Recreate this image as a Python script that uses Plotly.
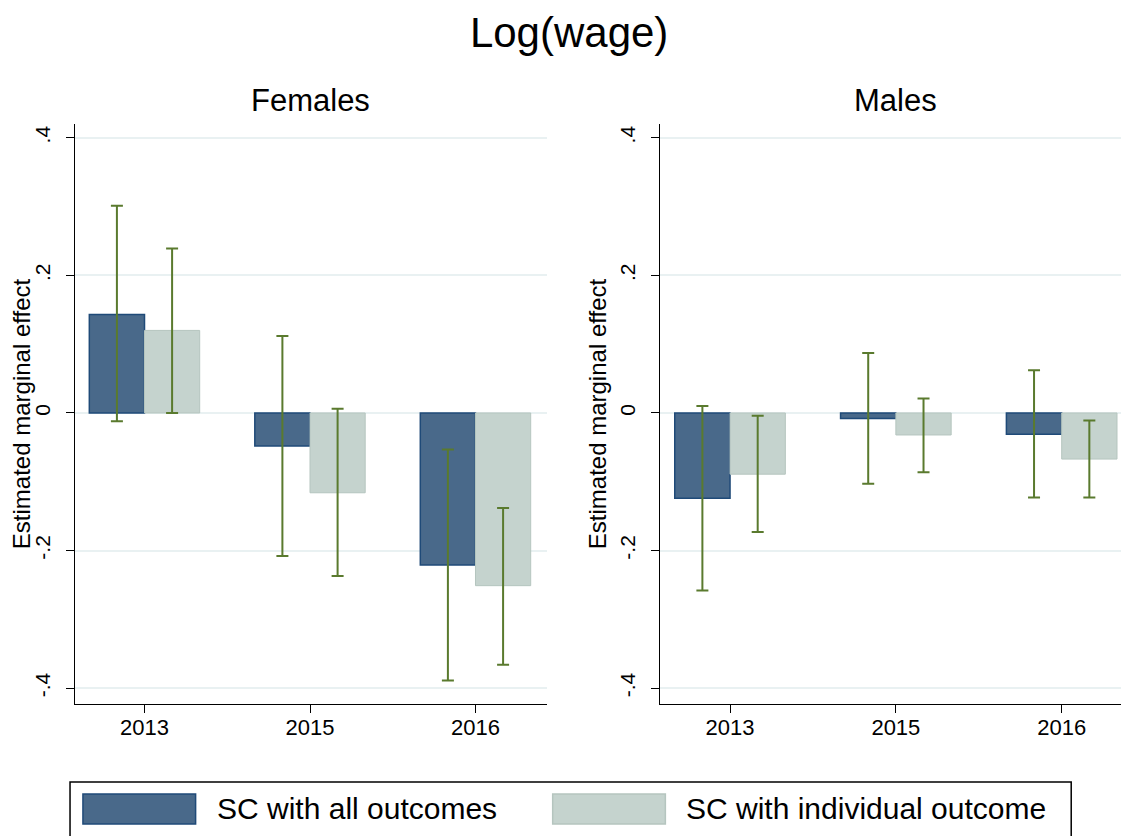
import plotly.graph_objects as go

# data (estimate, lower CI, upper CI)
years = ["2013", "2015", "2016"]

fem_all = [0.143, -0.048, -0.221]
fem_all_lo = [-0.012, -0.208, -0.389]
fem_all_hi = [0.301, 0.112, -0.053]
fem_ind = [0.120, -0.116, -0.251]
fem_ind_lo = [0.000, -0.237, -0.366]
fem_ind_hi = [0.239, 0.006, -0.138]

male_all = [-0.124, -0.008, -0.031]
male_all_lo = [-0.258, -0.103, -0.123]
male_all_hi = [0.010, 0.087, 0.062]
male_ind = [-0.089, -0.032, -0.067]
male_ind_lo = [-0.173, -0.086, -0.123]
male_ind_hi = [-0.004, 0.021, -0.011]

series_names = ["SC with all outcomes", "SC with individual outcome"]
panel_titles = ["Females", "Males"]
ytick_vals = [-0.4, -0.2, 0, 0.2, 0.4]
ytick_text = ["-.4", "-.2", "0", ".2", ".4"]

FONT = "Liberation Sans, Arial, sans-serif"
BLUE = "#49698a"
BLUE_LINE = "#1f4a78"
GRAY = "#c5d3ce"
GRAY_LINE = "#b5c5bf"
ERR = "#5a7a2e"
GRID = "#e9f1f2"

xpos = list(range(len(years)))


def err(vals, lo, hi):
    return dict(type="data", symmetric=False,
                array=[h - v for v, h in zip(vals, hi)],
                arrayminus=[v - l for v, l in zip(vals, lo)],
                color=ERR, thickness=2, width=6)


fig = go.Figure()
panels = [
    (fem_all, fem_all_lo, fem_all_hi, fem_ind, fem_ind_lo, fem_ind_hi, "x", "y"),
    (male_all, male_all_lo, male_all_hi, male_ind, male_ind_lo, male_ind_hi, "x2", "y2"),
]
for a, alo, ahi, b, blo, bhi, xa, ya in panels:
    fig.add_trace(go.Bar(x=xpos, y=a, name=series_names[0], xaxis=xa, yaxis=ya,
                         marker=dict(color=BLUE, line=dict(color=BLUE_LINE, width=1.5)),
                         error_y=err(a, alo, ahi), showlegend=False))
    fig.add_trace(go.Bar(x=xpos, y=b, name=series_names[1], xaxis=xa, yaxis=ya,
                         marker=dict(color=GRAY, line=dict(color=GRAY_LINE, width=1)),
                         error_y=err(b, blo, bhi), showlegend=False))

xax = dict(tickmode="array", tickvals=xpos, ticktext=years, showgrid=False,
           zeroline=False, showline=True, linecolor="black", linewidth=1,
           ticks="outside", ticklen=8, tickcolor="black", ticklabelstandoff=-4,
           tickfont=dict(size=22, color="black"))
yax = dict(tickmode="array", tickvals=ytick_vals, ticktext=ytick_text,
           range=[-0.423, 0.42], showgrid=True, gridcolor=GRID, gridwidth=1.5,
           zeroline=False, showline=True, linecolor="black", linewidth=1,
           ticks="outside", ticklen=8, tickcolor="black", tickangle=-90,
           ticklabelstandoff=8,
           tickfont=dict(size=21, color="black"),
           title=dict(text="Estimated marginal effect", standoff=2,
                      font=dict(size=24, color="black")))

fig.update_layout(
    width=1129, height=836,
    margin=dict(l=64, r=4, t=116, b=140),
    paper_bgcolor="white", plot_bgcolor="white",
    font=dict(family=FONT, color="black"),
    barmode="group", bargap=0.333, bargroupgap=0,
    title=dict(text="Log(wage)", x=0.497, xanchor="center", xref="container",
               y=0.971, yanchor="middle", font=dict(size=42, color="black")),
    xaxis=dict(xax, domain=[0, 0.4458], range=[-0.42, 2.43], anchor="y"),
    xaxis2=dict(xax, domain=[0.5533, 1.0], range=[-0.42, 2.43], anchor="y2"),
    yaxis=dict(yax, anchor="x", domain=[0, 1]),
    yaxis2=dict(yax, anchor="x2", domain=[0, 1]),
    showlegend=False,
)

# panel titles
for title, xc in zip(panel_titles, [0.2224, 0.7752]):
    fig.add_annotation(text=title, xref="paper", yref="paper", x=xc, y=1.041,
                       showarrow=False, xanchor="center", yanchor="middle",
                       font=dict(size=31, color="black"))

# legend box drawn below the panels
fig.add_shape(type="rect", xref="paper", yref="paper", x0=-0.0047, x1=0.9416,
              y0=-0.27, y1=-0.1345, line=dict(color="black", width=1.5),
              fillcolor="white", layer="below")
swatches = [(0.0075, 0.114, BLUE, BLUE_LINE), (0.4515, 0.558, GRAY, GRAY_LINE)]
for (x0, x1, fc, lc), name, tx in zip(swatches, series_names, [0.132, 0.5754]):
    fig.add_shape(type="rect", xref="paper", yref="paper", x0=x0, x1=x1,
                  y0=-0.207, y1=-0.155, fillcolor=fc, line=dict(color=lc, width=1.5))
    fig.add_annotation(text=name, xref="paper", yref="paper", x=tx, y=-0.181,
                       showarrow=False, xanchor="left", yanchor="middle",
                       font=dict(size=30, color="black"))

fig.write_html("out.html")
